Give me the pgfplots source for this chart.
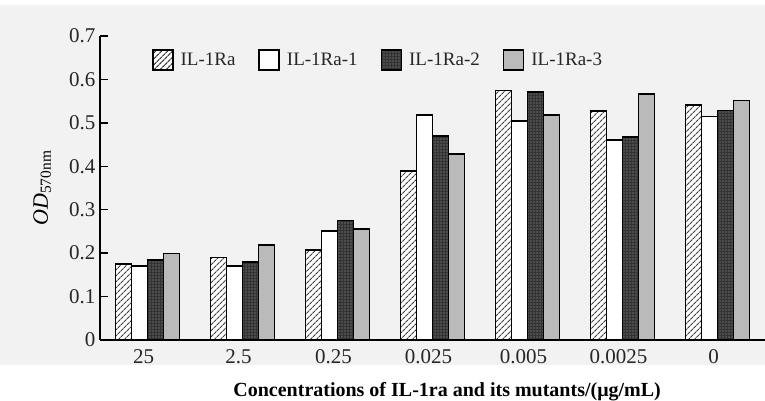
\documentclass[border=0pt]{standalone}
\usepackage{fontspec}
\setmainfont{Liberation Serif}
\usepackage{pgfplots}
\pgfplotsset{compat=1.18}
\usetikzlibrary{patterns.meta}
\definecolor{bg}{HTML}{F2F2F2}
\begin{document}
\begin{tikzpicture}[x=1pt,y=1pt]
\fill[bg] (-100,-25) rectangle (665,335);
\path[use as bounding box] (-100,-60) rectangle (665,340);
\begin{axis}[
  at={(0pt,0pt)}, anchor=south west,
  width=665pt, height=304pt, scale only axis,
  xmin=-0.5, xmax=6.5, ymin=0, ymax=0.7,
  axis x line=bottom, axis y line=left,
  axis line style={line width=1.5pt, -},
  xtick={0,1,2,3,4,5,6},
  xticklabels={25,2.5,0.25,0.025,0.005,0.0025,0},
  x tick style={draw=none},
  extra x ticks={0.5,1.5,2.5,3.5,4.5,5.5},
  extra x tick labels={},
  extra x tick style={tick align=inside, major tick length=8pt, tick style={draw=black, line width=1.5pt}},
  ytick={0,0.1,0.2,0.3,0.4,0.5,0.6,0.7},
  yticklabels={0,0.1,0.2,0.3,0.4,0.5,0.6,0.7},
  y tick style={line width=1.5pt, black},
  tick align=inside,
  major tick length=8pt,
  /pgf/number format/assume math mode=true,
  xticklabel style={font=\fontsize{21}{24}\selectfont, text=black!85, yshift=-6pt, xshift=-4pt},
  yticklabel style={font=\fontsize{21}{24}\selectfont, text=black!85, xshift=-1pt},
  every axis y label/.style={at={(axis description cs:-0.087,0.5)}, rotate=90, anchor=center},
  ylabel={\fontsize{22}{24}\selectfont\textit{OD}\textsubscript{570nm}},
  every axis x label/.style={at={(axis description cs:0.522,0)}, yshift=-52pt, anchor=center},
  xlabel={\fontsize{20}{22}\selectfont\bfseries Concentrations of IL-1ra and its mutants/(μg/mL)},
  legend style={at={(axis description cs:0.078,0.921)}, anchor=west, draw=none, fill=none,
    font=\fontsize{19}{22}\selectfont, text=black!85, inner sep=0pt,
    /tikz/every odd column/.append style={column sep=5pt}},
  legend columns=4,
  /tikz/every even column/.append style={column sep=21pt},
  legend image code/.code={\draw[#1, line width=1.5pt] (0pt,-10pt) rectangle (20pt,10pt);},
]
\addplot[ybar, bar width=0.168, bar shift=-0.252, draw=black, line width=1.5pt, fill=white,
  postaction={pattern={Lines[angle=45,distance=4pt,line width=1.2pt]}, pattern color=black!75}]
  coordinates {(0,0.175) (1,0.190) (2,0.207) (3,0.389) (4,0.575) (5,0.527) (6,0.541)};
\addplot[ybar, bar width=0.168, bar shift=-0.084, draw=black, line width=1.5pt, fill=white]
  coordinates {(0,0.170) (1,0.170) (2,0.251) (3,0.518) (4,0.504) (5,0.460) (6,0.515)};
\addplot[ybar, bar width=0.168, bar shift=0.084, draw=black, line width=1.5pt, fill=black!80,
  postaction={pattern={Dots[distance=3pt,radius=0.65pt]}, pattern color=black!35}]
  coordinates {(0,0.184) (1,0.180) (2,0.275) (3,0.470) (4,0.571) (5,0.467) (6,0.529)};
\addplot[ybar, bar width=0.168, bar shift=0.252, draw=black, line width=1.5pt, fill=black!27]
  coordinates {(0,0.199) (1,0.219) (2,0.256) (3,0.428) (4,0.518) (5,0.566) (6,0.552)};
\legend{IL-1Ra,IL-1Ra-1,IL-1Ra-2,IL-1Ra-3}
\end{axis}
\end{tikzpicture}
\end{document}
